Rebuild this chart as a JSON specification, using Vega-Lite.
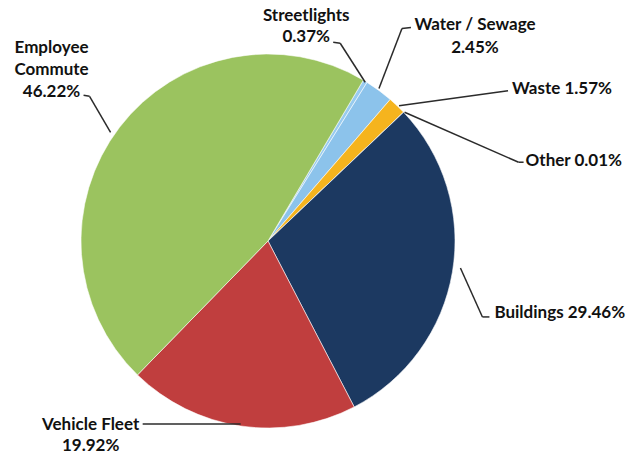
{
  "$schema": "https://vega.github.io/schema/vega-lite/v6.json",
  "autosize": {"type": "none"},
  "width": 536,
  "height": 418,
  "padding": {"left": 0, "top": 32, "right": 90, "bottom": 4},
  "background": "#ffffff",
  "config": {"view": {"stroke": null}, "text": {"font": "Lato", "fontWeight": "bold", "fontSize": 17, "color": "#111111"}},
  "data": {
    "values": [
      {"cat": "Streetlights", "value": 0.37, "order": 1},
      {"cat": "Water / Sewage", "value": 2.45, "order": 2},
      {"cat": "Waste", "value": 1.57, "order": 3},
      {"cat": "Other", "value": 0.01, "order": 4},
      {"cat": "Buildings", "value": 29.46, "order": 5},
      {"cat": "Vehicle Fleet", "value": 19.92, "order": 6},
      {"cat": "Employee Commute", "value": 46.22, "order": 7}
    ]
  },
  "layer": [
    {
      "mark": {"type": "arc", "outerRadius": 187, "stroke": "#ffffff", "strokeWidth": 0.8, "strokeOpacity": 0.7},
      "encoding": {
        "theta": {"field": "value", "type": "quantitative", "stack": true, "scale": {"range": [0.535, 6.8182]}},
        "order": {"field": "order", "type": "quantitative"},
        "color": {
          "field": "cat", "type": "nominal", "legend": null,
          "scale": {
            "domain": ["Streetlights", "Water / Sewage", "Waste", "Other", "Buildings", "Vehicle Fleet", "Employee Commute"],
            "range": ["#98cbef", "#8cc3eb", "#f5b41e", "#e8c060", "#1c3961", "#c03e3e", "#9bc35f"]
          }
        }
      }
    },
    {
      "transform": [
        {"window": [{"op": "sum", "field": "value", "as": "cum"}], "sort": [{"field": "order"}]},
        {"calculate": "0.535 + 2 * PI * (datum.cum - datum.value / 2) / 100", "as": "ang"},
        {"calculate": "187 * sin(datum.ang)", "as": "ex"},
        {"calculate": "187 * cos(datum.ang)", "as": "ey"}
      ],
      "encoding": {
        "x": {"field": "ex", "type": "quantitative", "axis": null, "scale": {"domain": [-268, 268], "nice": false, "zero": false}},
        "y": {"field": "ey", "type": "quantitative", "axis": null, "scale": {"domain": [-209, 209], "nice": false, "zero": false}}
      },
      "layer": [
        {
          "transform": [{"filter": "datum.cat === 'Streetlights'"}],
          "layer": [
            {"mark": {"type": "text", "text": ["Streetlights", "0.37%"], "align": "center", "baseline": "alphabetic", "dx": -59, "dy": -60, "lineHeight": 21}},
            {"mark": {"type": "rule", "color": "#2b2b2b", "strokeWidth": 1.5, "xOffset": 0, "yOffset": 1, "x2Offset": -25, "y2Offset": -38}, "encoding": {"x2": {"field": "ex"}, "y2": {"field": "ey"}}},
            {"mark": {"type": "rule", "color": "#2b2b2b", "strokeWidth": 1.5, "xOffset": -25, "yOffset": -38, "x2Offset": -32, "y2Offset": -39}, "encoding": {"x2": {"field": "ex"}, "y2": {"field": "ey"}}}
          ]
        },
        {
          "transform": [{"filter": "datum.cat === 'Water / Sewage'"}],
          "layer": [
            {"mark": {"type": "text", "text": ["Water / Sewage", "2.45%"], "align": "center", "baseline": "alphabetic", "dx": 96, "dy": -60, "lineHeight": 22.5}},
            {"mark": {"type": "rule", "color": "#2b2b2b", "strokeWidth": 1.5, "xOffset": 0, "yOffset": -2, "x2Offset": 23, "y2Offset": -62}, "encoding": {"x2": {"field": "ex"}, "y2": {"field": "ey"}}},
            {"mark": {"type": "rule", "color": "#2b2b2b", "strokeWidth": 1.5, "xOffset": 23, "yOffset": -62, "x2Offset": 32, "y2Offset": -63}, "encoding": {"x2": {"field": "ex"}, "y2": {"field": "ey"}}}
          ]
        },
        {
          "transform": [{"filter": "datum.cat === 'Waste'"}],
          "layer": [
            {"mark": {"type": "text", "text": "Waste 1.57%", "align": "left", "baseline": "alphabetic", "dx": 115, "dy": -12}},
            {"mark": {"type": "rule", "color": "#2b2b2b", "strokeWidth": 1.5, "xOffset": 2, "yOffset": 0, "x2Offset": 111, "y2Offset": -15}, "encoding": {"x2": {"field": "ex"}, "y2": {"field": "ey"}}}
          ]
        },
        {
          "transform": [{"filter": "datum.cat === 'Other'"}],
          "layer": [
            {"mark": {"type": "text", "text": "Other 0.01%", "align": "left", "baseline": "alphabetic", "dx": 122, "dy": 54}},
            {"mark": {"type": "rule", "color": "#2b2b2b", "strokeWidth": 1.5, "xOffset": 1, "yOffset": 0, "x2Offset": 115, "y2Offset": 50}, "encoding": {"x2": {"field": "ex"}, "y2": {"field": "ey"}}},
            {"mark": {"type": "rule", "color": "#2b2b2b", "strokeWidth": 1.5, "xOffset": 115, "yOffset": 50, "x2Offset": 120, "y2Offset": 50}, "encoding": {"x2": {"field": "ex"}, "y2": {"field": "ey"}}}
          ]
        },
        {
          "transform": [{"filter": "datum.cat === 'Buildings'"}],
          "layer": [
            {"mark": {"type": "text", "text": "Buildings 29.46%", "align": "left", "baseline": "alphabetic", "dx": 42, "dy": 46}},
            {"mark": {"type": "rule", "color": "#2b2b2b", "strokeWidth": 1.5, "xOffset": 8, "yOffset": -4, "x2Offset": 30, "y2Offset": 45}, "encoding": {"x2": {"field": "ex"}, "y2": {"field": "ey"}}},
            {"mark": {"type": "rule", "color": "#2b2b2b", "strokeWidth": 1.5, "xOffset": 30, "yOffset": 45, "x2Offset": 37, "y2Offset": 45}, "encoding": {"x2": {"field": "ex"}, "y2": {"field": "ey"}}}
          ]
        },
        {
          "transform": [{"filter": "datum.cat === 'Vehicle Fleet'"}],
          "layer": [
            {"mark": {"type": "text", "text": ["Vehicle Fleet", "19.92%"], "align": "center", "baseline": "alphabetic", "dx": -150, "dy": 4, "lineHeight": 21.5}},
            {"mark": {"type": "rule", "color": "#2b2b2b", "strokeWidth": 1.5, "xOffset": 0, "yOffset": -2, "x2Offset": -98, "y2Offset": -2}, "encoding": {"x2": {"field": "ex"}, "y2": {"field": "ey"}}}
          ]
        },
        {
          "transform": [{"filter": "datum.cat === 'Employee Commute'"}],
          "layer": [
            {"mark": {"type": "text", "text": ["Employee", "Commute", "46.22%"], "align": "center", "baseline": "alphabetic", "dx": -68, "dy": -74, "lineHeight": 22}},
            {"mark": {"type": "rule", "color": "#2b2b2b", "strokeWidth": 1.5, "xOffset": -9, "yOffset": 5, "x2Offset": -30, "y2Offset": -31}, "encoding": {"x2": {"field": "ex"}, "y2": {"field": "ey"}}},
            {"mark": {"type": "rule", "color": "#2b2b2b", "strokeWidth": 1.5, "xOffset": -30, "yOffset": -31, "x2Offset": -36, "y2Offset": -32}, "encoding": {"x2": {"field": "ex"}, "y2": {"field": "ey"}}}
          ]
        }
      ]
    }
  ]
}
